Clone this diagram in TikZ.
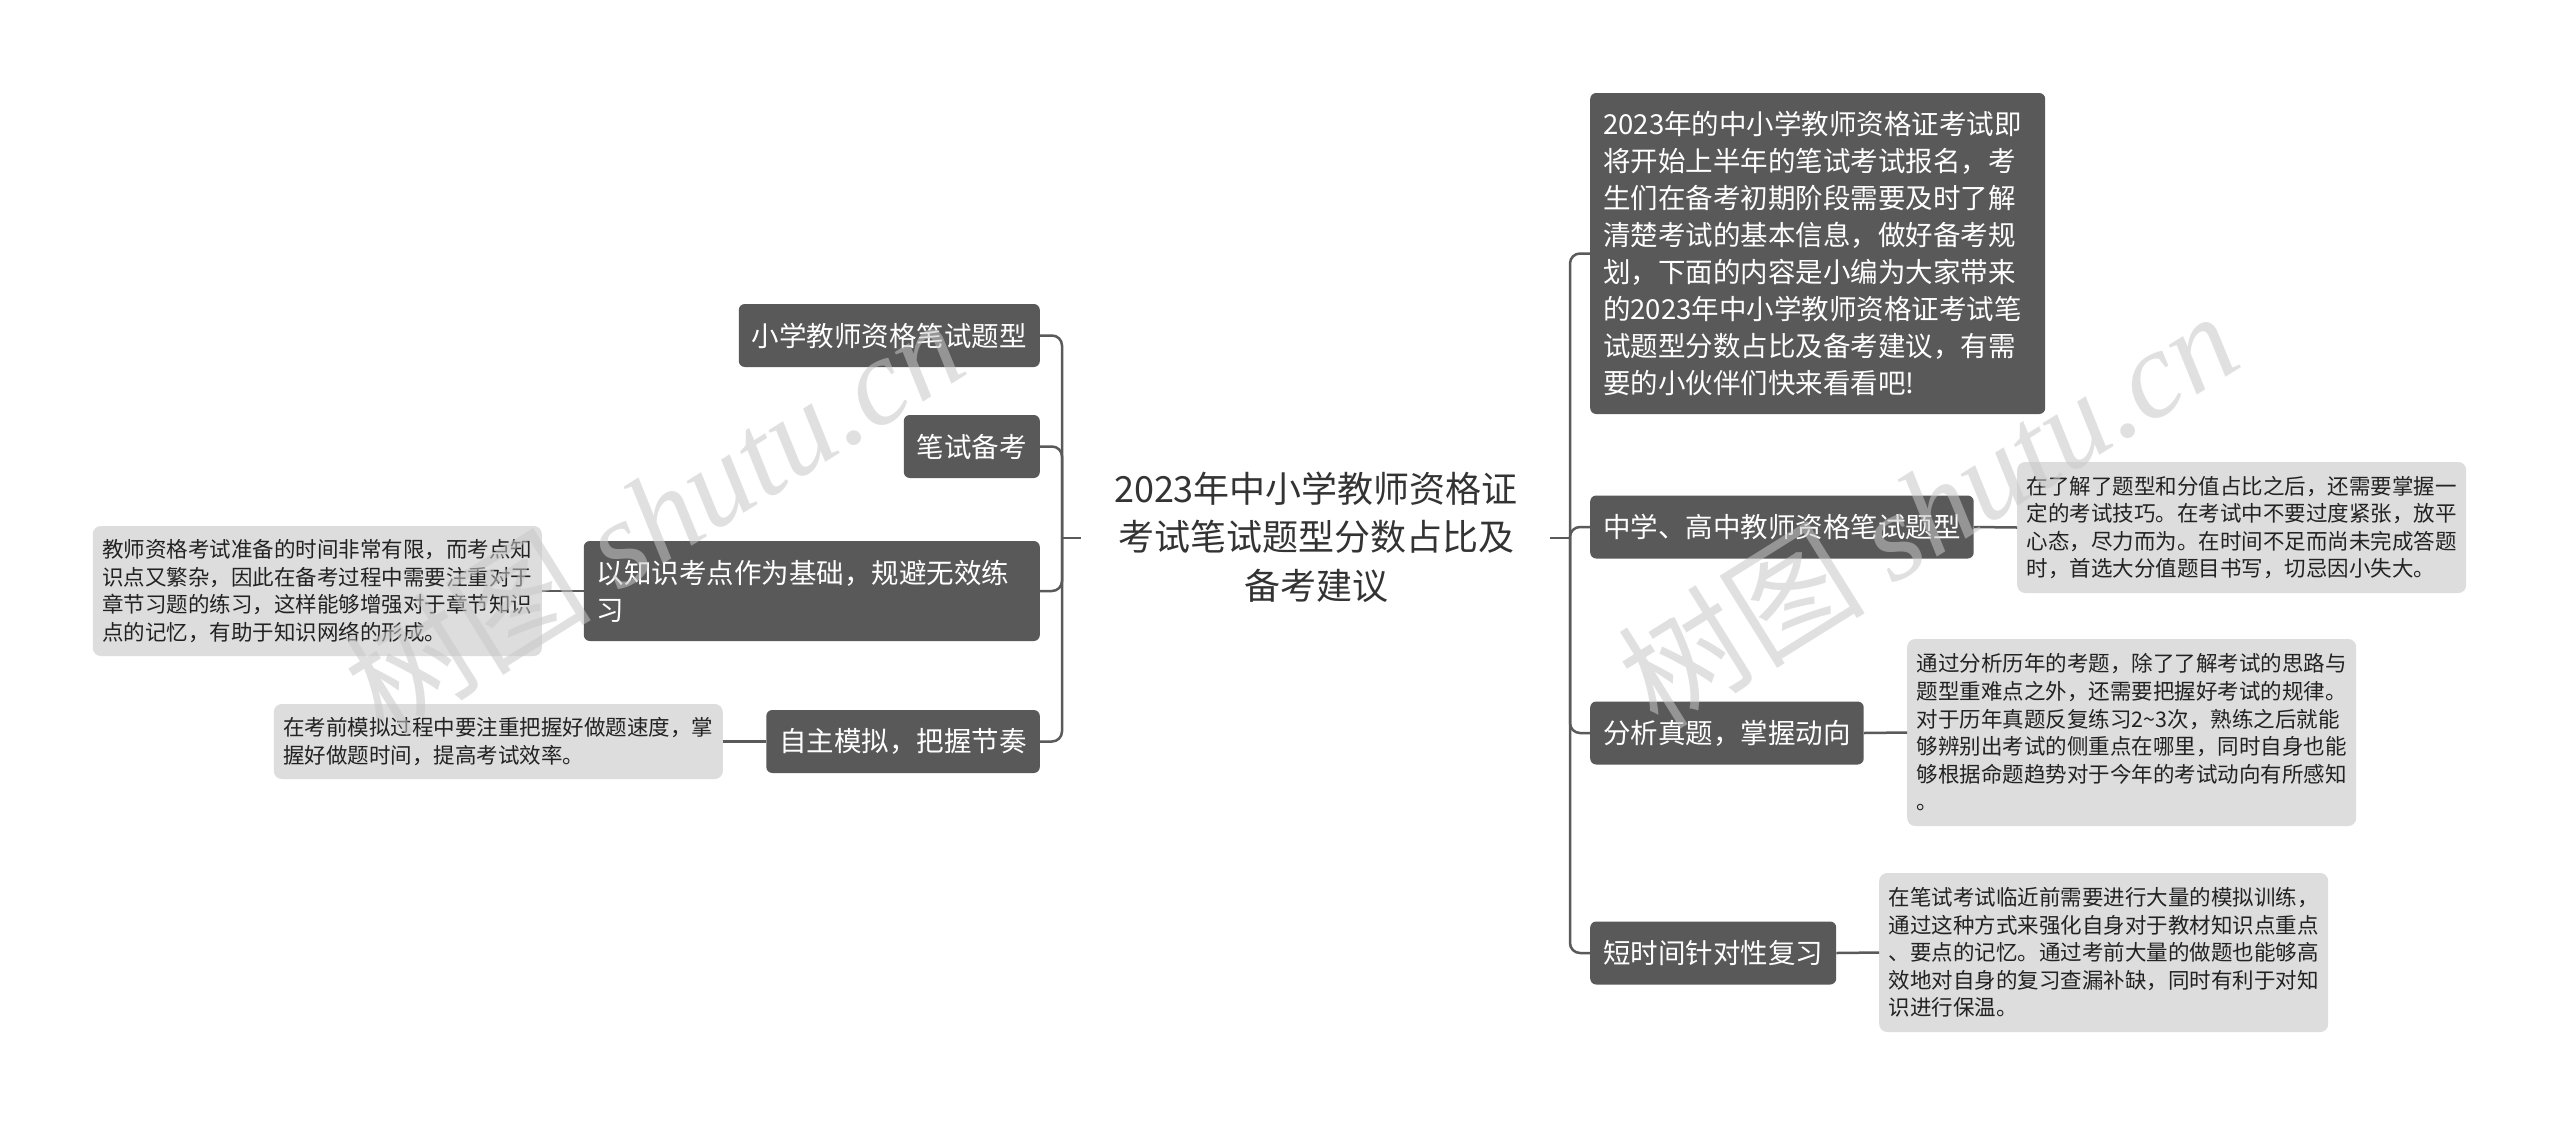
\documentclass[tikz,border=0pt]{standalone}
\usepackage{fontspec}
\setmainfont{Noto Sans CJK SC}
\newfontfamily\wmfont{Liberation Serif}
\definecolor{boxfill}{HTML}{595959}
\definecolor{notefill}{HTML}{DDDDDD}
\definecolor{notetext}{HTML}{222222}
\definecolor{titletext}{HTML}{333333}
\definecolor{linecol}{HTML}{5A5A5A}
\definecolor{wmcol}{HTML}{C8C8C8}
\tikzset{
  darkbox/.style={fill=boxfill, text=white, rounded corners=6pt, inner xsep=13pt, inner ysep=0pt, minimum height=63pt, font=\fontsize{27.5}{37}\selectfont},
  notebox/.style={fill=notefill, text=notetext, rounded corners=8pt, inner xsep=9.5pt, inner ysep=0pt, text width=430pt, align=left, font=\fontsize{21.5}{27.6}\selectfont},
  conn/.style={draw=linecol, line width=2.5pt},
  trunk/.style={conn, rounded corners=10pt},
  wm/.style={text=wmcol, opacity=0.55, inner sep=0pt, font=\fontsize{124}{130}\selectfont}
}
\begin{document}
\begin{tikzpicture}[x=1pt,y=-1pt]
\useasboundingbox[fill=white] (0,0) rectangle (2560,1125);

% central title
\node[text=titletext, align=center, inner sep=0pt, font=\fontsize{36}{48.5}\selectfont] (title) at (1316,537)
  {2023年中小学教师资格证\\考试笔试题型分数占比及\\备考建议};
\coordinate (titleL) at (1081,538);
\coordinate (titleR) at (1550,538);
\coordinate (hubL) at (1062,538);
\coordinate (hubR) at (1570,538);

% left branches
\node[darkbox, anchor=east] (l1) at (1040,335.5) {小学教师资格笔试题型};
\node[darkbox, anchor=east] (l2) at (1040,446.5) {笔试备考};
\node[darkbox, anchor=east, text width=430pt, align=left, minimum height=100pt] (l3) at (1040,591)
  {以知识考点作为基础，规避无效练\\习};
\node[darkbox, anchor=east] (l4) at (1040,741.5) {自主模拟，把握节奏};

\node[notebox, anchor=east, minimum height=130pt] (nl3) at (542,591)
  {教师资格考试准备的时间非常有限，而考点知\\识点又繁杂，因此在备考过程中需要注重对于\\章节习题的练习，这样能够增强对于章节知识\\点的记忆，有助于知识网络的形成。};
\node[notebox, anchor=east, minimum height=75pt] (nl4) at (723,741.5)
  {在考前模拟过程中要注重把握好做题速度，掌\\握好做题时间，提高考试效率。};

% right branches
\node[darkbox, anchor=west, text width=429pt, align=left, minimum height=321pt] (r1) at (1590,253.5)
  {2023年的中小学教师资格证考试即\\将开始上半年的笔试考试报名，考\\生们在备考初期阶段需要及时了解\\清楚考试的基本信息，做好备考规\\划，下面的内容是小编为大家带来\\的2023年中小学教师资格证考试笔\\试题型分数占比及备考建议，有需\\要的小伙伴们快来看看吧!};
\node[darkbox, anchor=west] (r2) at (1590,527) {中学、高中教师资格笔试题型};
\node[darkbox, anchor=west] (r3) at (1590,733) {分析真题，掌握动向};
\node[darkbox, anchor=west] (r4) at (1590,953) {短时间针对性复习};

\node[notebox, anchor=west, minimum height=131pt] (nr2) at (2017,527.5)
  {在了解了题型和分值占比之后，还需要掌握一\\定的考试技巧。在考试中不要过度紧张，放平\\心态，尽力而为。在时间不足而尚未完成答题\\时，首选大分值题目书写，切忌因小失大。};
\node[notebox, anchor=west, minimum height=187pt] (nr3) at (1907,732.5)
  {通过分析历年的考题，除了了解考试的思路与\\题型重难点之外，还需要把握好考试的规律。\\对于历年真题反复练习2\textasciitilde3次，熟练之后就能\\够辨别出考试的侧重点在哪里，同时自身也能\\够根据命题趋势对于今年的考试动向有所感知\\。};
\node[notebox, anchor=west, minimum height=159pt] (nr4) at (1879,952.5)
  {在笔试考试临近前需要进行大量的模拟训练，\\通过这种方式来强化自身对于教材知识点重点\\、要点的记忆。通过考前大量的做题也能够高\\效地对自身的复习查漏补缺，同时有利于对知\\识进行保温。};

% connectors
\draw[conn] (titleL) -- (hubL);
\draw[conn] (titleR) -- (hubR);
\foreach \n in {l1,l2,l3,l4} { \draw[trunk] (hubL) |- (\n.east); }
\foreach \n in {r1,r2,r3,r4} { \draw[trunk] (hubR) |- (\n.west); }
\draw[conn] (l3.west) -- (nl3.east);
\draw[conn] (l4.west) -- (nl4.east);
\draw[conn] (r2.east) -- (nr2.west);
\draw[conn] (r3.east) -- (nr3.west);
\draw[conn] (r4.east) -- (nr4.west);

% watermarks
\node[wm, rotate=32] (wm1) at (653,515) {树图 {\wmfont\itshape shutu.cn}};
\node[wm, rotate=32] (wm2) at (1927,508) {树图 {\wmfont\itshape shutu.cn}};
\end{tikzpicture}
\end{document}
